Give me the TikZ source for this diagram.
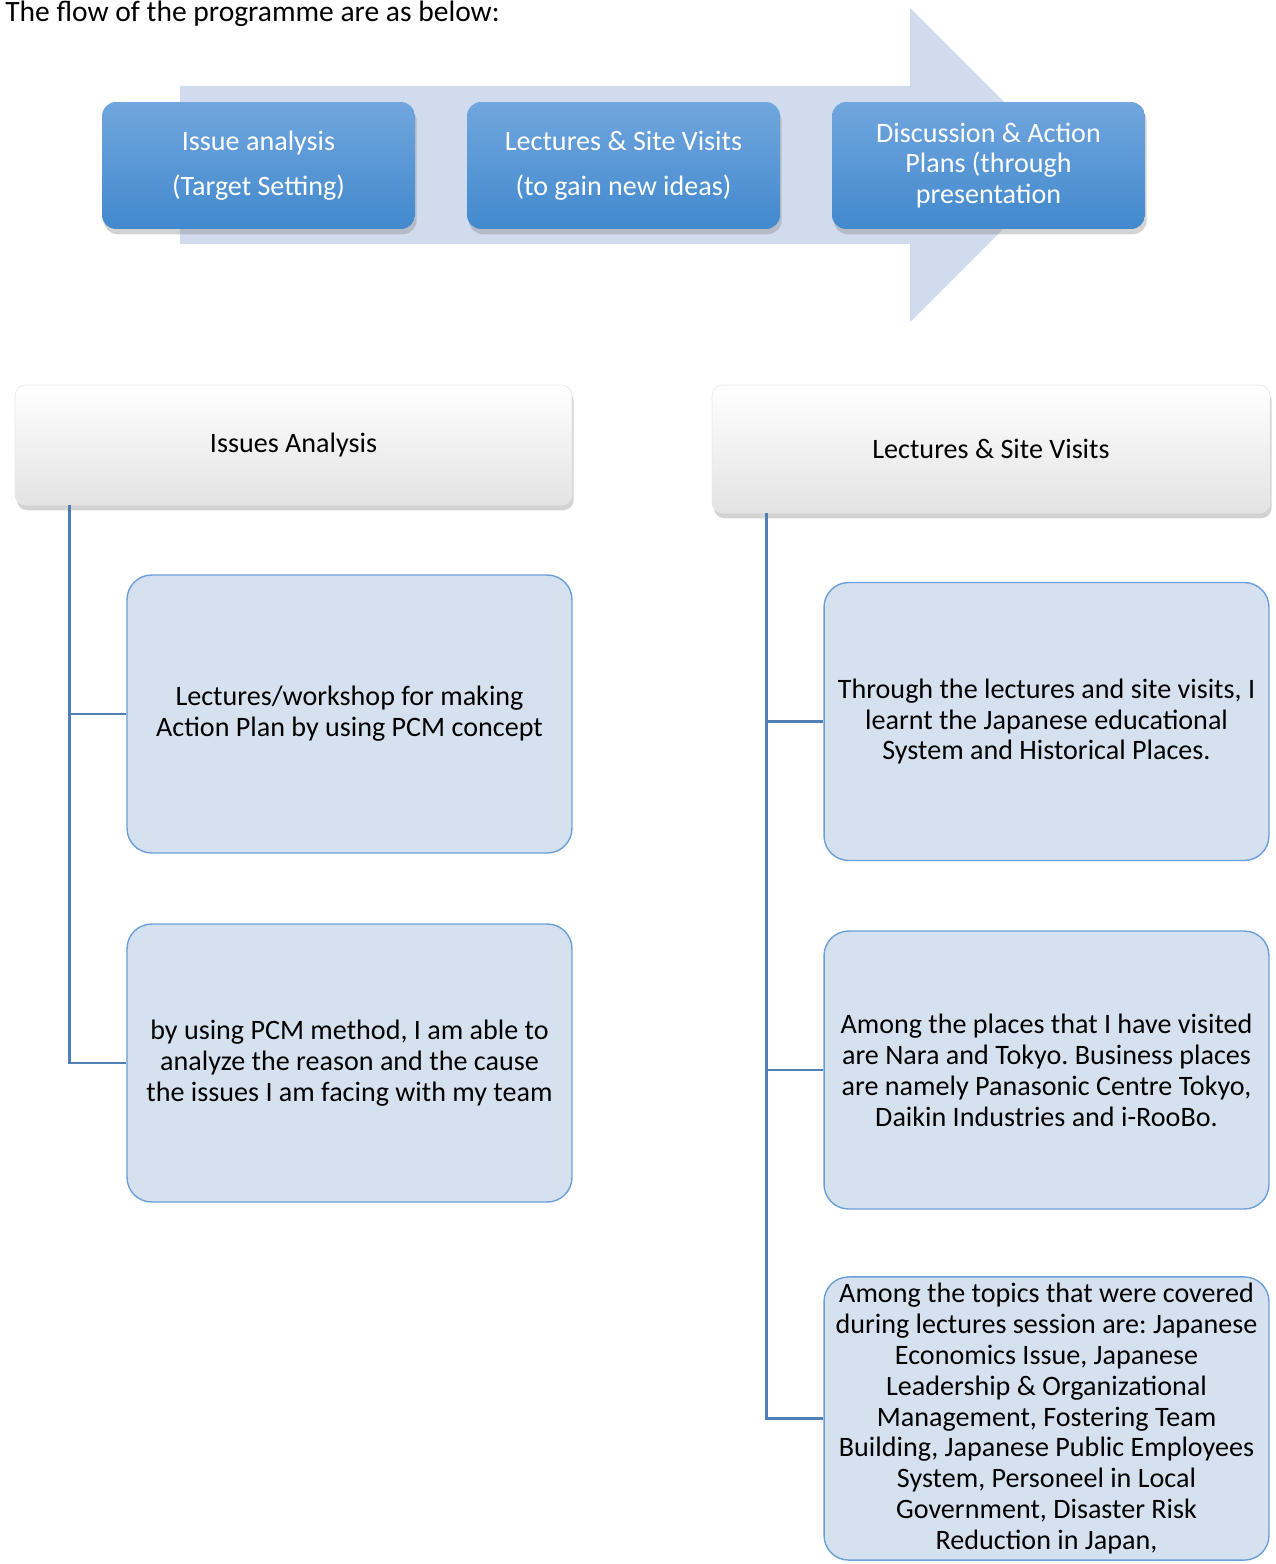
\documentclass[tikz,border=0pt]{standalone}
\usepackage{fontspec}
\setmainfont{Carlito}
\usetikzlibrary{shadows}
\frenchspacing

\definecolor{arrowband}{HTML}{D0DCEE}
\definecolor{steptop}{HTML}{71A6DE}
\definecolor{stepbottom}{HTML}{4189CD}
\definecolor{kidfill}{HTML}{D6E1F0}
\definecolor{kidline}{HTML}{6A9FDA}
\definecolor{branchline}{HTML}{4F7FB5}

\tikzset{
  stepbox/.style={rounded corners=8pt, minimum width=6.26cm, minimum height=2.54cm,
    top color=steptop, bottom color=stepbottom, text=white, align=center,
    font=\fontsize{16}{17.6}\selectfont,
    drop shadow={opacity=0.35, shadow xshift=1pt, shadow yshift=-3pt}},
  headbox/.style={draw=black!9, line width=0.4pt, rounded corners=6pt, minimum width=11.14cm, minimum height=2.4cm,
    top color=white, bottom color=black!11, align=center,
    font=\fontsize{16}{17.6}\selectfont,
    drop shadow={opacity=0.35, shadow xshift=1pt, shadow yshift=-3pt}},
  kidbox/.style={draw=kidline, fill=kidfill, rounded corners=14pt, line width=0.8pt,
    minimum width=8.9cm, minimum height=5.56cm, align=center,
    font=\fontsize{16}{17.6}\selectfont},
  branch/.style={draw=branchline, line width=1.4pt}
}

\begin{document}
\begin{tikzpicture}[x=0.02cm, y=-0.02cm]
\useasboundingbox (0,0) rectangle (1275,1564);

\node[anchor=base west, inner sep=0pt, font=\fontsize{16.8}{20}\selectfont] (flow title) at (5,22) {The flow of the programme are as below:};

% big arrow behind the steps
\fill[arrowband] (180,86) -- (910,86) -- (910,8) -- (1067,165) -- (910,322) -- (910,244) -- (180,244) -- cycle;

\node[stepbox] (issue analysis) at (258.5,165.5) {Issue analysis\\[8pt](Target Setting)};
\node[stepbox] (lectures visits) at (623.5,165.5) {Lectures \& Site Visits\\[8pt](to gain new ideas)};
\node[stepbox] (discussion) at (988.5,165.5) {Discussion \& Action\\Plans (through\\presentation};

\node[headbox] (issues head) at (293.5,445) {Issues Analysis};
\node[headbox, minimum width=11.16cm, minimum height=2.56cm] (lectures head) at (991,449) {Lectures \& Site Visits};

\node[kidbox] (pcm workshop) at (349.5,714) {Lectures/workshop for making\\Action Plan by using PCM concept};
\node[kidbox] (pcm method) at (349.5,1063) {by using PCM method, I am able to\\analyze the reason and the cause\\the issues I am facing with my team};

\node[kidbox] (learnt) at (1046.5,721.5) {Through the lectures and site visits, I\\learnt the Japanese educational\\System and Historical Places.};
\node[kidbox] (places) at (1046.5,1070) {Among the places that I have visited\\are Nara and Tokyo. Business places\\are namely Panasonic Centre Tokyo,\\Daikin Industries and i-RooBo.};
\node[kidbox] (topics) at (1046.5,1418.5) {Among the topics that were covered\\during lectures session are: Japanese\\Economics Issue, Japanese\\Leadership \& Organizational\\Management, Fostering Team\\Building, Japanese Public Employees\\System, Personeel in Local\\Government, Disaster Risk\\Reduction in Japan,};

\draw[branch] ([xshift=1.1cm]issues head.south west) |- (pcm workshop.west);
\draw[branch] ([xshift=1.1cm]issues head.south west) |- (pcm method.west);
\draw[branch] ([xshift=1.1cm]lectures head.south west) |- (learnt.west);
\draw[branch] ([xshift=1.1cm]lectures head.south west) |- (places.west);
\draw[branch] ([xshift=1.1cm]lectures head.south west) |- (topics.west);
\end{tikzpicture}
\end{document}
